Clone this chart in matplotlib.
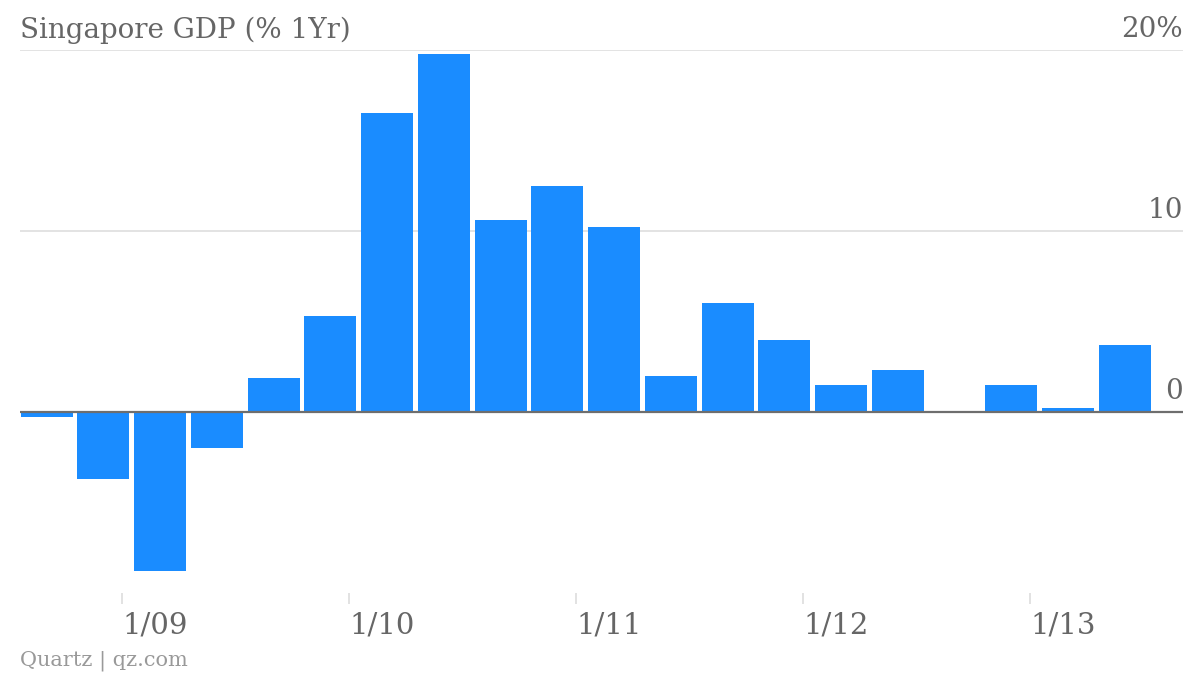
import matplotlib
matplotlib.use("Agg")
import matplotlib.pyplot as plt

# quarterly data, x in months since Jan 2008
months = [8, 11, 14, 17, 20, 23, 26, 29, 32, 35, 38, 41, 44, 47, 50, 53, 56, 59, 62, 65]
gdp = [-0.3, -3.7, -8.8, -2.0, 1.9, 5.3, 16.5, 19.8, 10.6, 12.5,
       10.2, 2.0, 6.0, 4.0, 1.5, 2.3, 0.0, 1.5, 0.2, 3.7]
tick_pos = [12, 24, 36, 48, 60]
tick_labels = ["1/09", "1/10", "1/11", "1/12", "1/13"]
y_ticks = [0, 10, 20]
y_labels = ["0", "10", "20%"]

blue = "#1a8cff"
text_gray = "#666666"
font = "DejaVu Serif"

fig = plt.figure(figsize=(12, 6.76), dpi=100)
ax = fig.add_axes([0.0167, 0.1228, 0.9691, 0.8032])

ax.bar(months, gdp, width=2.75, color=blue, zorder=2)

for y in y_ticks:
    if y == 0:
        ax.axhline(0, color="#6e6e6e", linewidth=1.6, zorder=3)
    else:
        ax.axhline(y, color="#e0e0e0", linewidth=1.3, zorder=1)

ax.set_xlim(6.6, 68.07)
ax.set_ylim(-10, 20)

for y, lab in zip(y_ticks, y_labels):
    ax.text(1.0, y + 0.4, lab, transform=ax.get_yaxis_transform(), ha="right", va="bottom",
            fontsize=20, color=text_gray, family=font)

ax.set_yticks([])
ax.set_xticks(tick_pos)
ax.set_xticklabels(tick_labels, ha="left", fontsize=21, color=text_gray, family=font)
ax.tick_params(axis="x", length=8, width=1.2, color="#dddddd", pad=5)

for s in ax.spines.values():
    s.set_visible(False)

fig.text(0.0167, 0.955, "Singapore GDP (% 1Yr)", ha="left", va="center",
         fontsize=20, color=text_gray, family=font)
fig.text(0.0167, 0.022, "Quartz | qz.com", ha="left", va="center",
         fontsize=15, color="#999999", family=font)

fig.savefig("out.png", dpi=100)
